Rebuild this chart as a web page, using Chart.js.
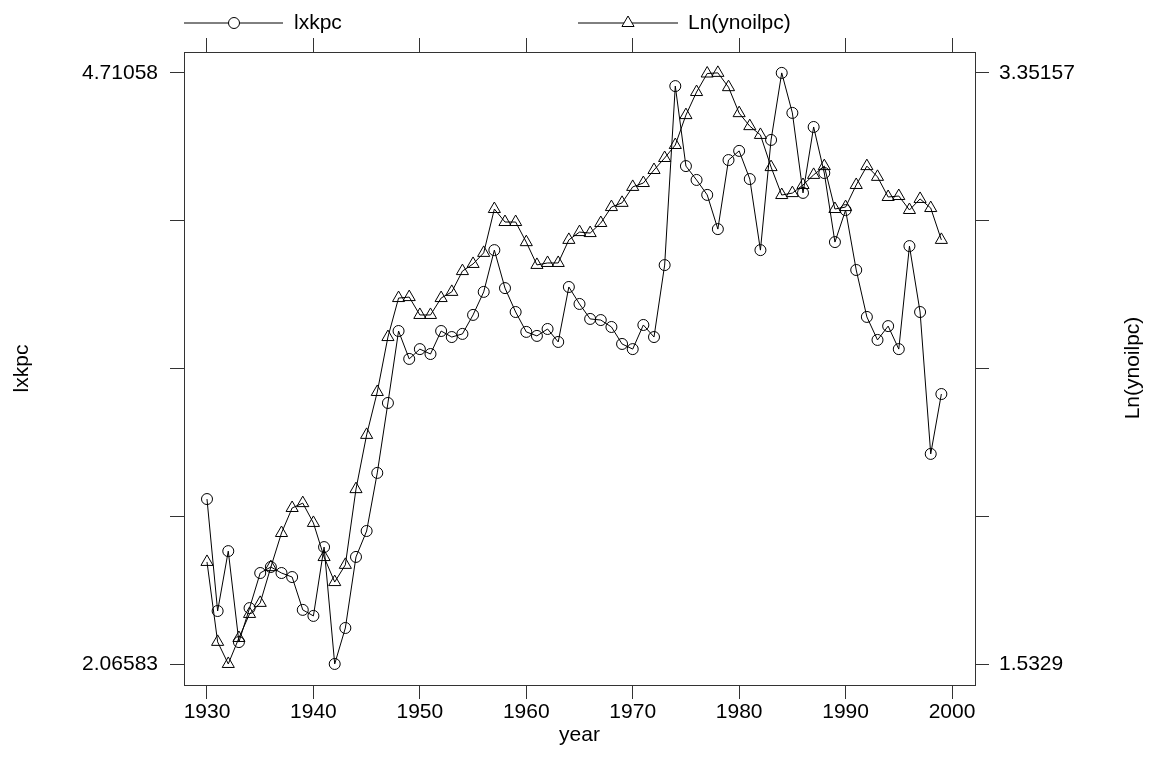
<!DOCTYPE html>
<html>
<head>
<meta charset="utf-8">
<script src="https://cdn.jsdelivr.net/npm/chart.js@4.4.1/dist/chart.umd.min.js"></script>
<style>
    html, body { margin: 0; padding: 0; background: #fff; }
    canvas { display: block; }
</style>
</head>
<body>
<canvas id="chart" width="1151" height="761"></canvas>
<script>
const years = [
    1930, 1931, 1932, 1933, 1934, 1935, 1936, 1937, 1938, 1939,
    1940, 1941, 1942, 1943, 1944, 1945, 1946, 1947, 1948, 1949,
    1950, 1951, 1952, 1953, 1954, 1955, 1956, 1957, 1958, 1959,
    1960, 1961, 1962, 1963, 1964, 1965, 1966, 1967, 1968, 1969,
    1970, 1971, 1972, 1973, 1974, 1975, 1976, 1977, 1978, 1979,
    1980, 1981, 1982, 1983, 1984, 1985, 1986, 1987, 1988, 1989,
    1990, 1991, 1992, 1993, 1994, 1995, 1996, 1997, 1998, 1999
];

const lxkpc = [
    2.804, 2.303, 2.571, 2.164, 2.316, 2.473, 2.500, 2.473, 2.455, 2.308,
    2.281, 2.589, 2.066, 2.227, 2.545, 2.661, 2.921, 3.234, 3.556, 3.431,
    3.475, 3.453, 3.556, 3.529, 3.543, 3.628, 3.731, 3.918, 3.748, 3.641,
    3.552, 3.534, 3.565, 3.507, 3.753, 3.677, 3.610, 3.605, 3.574, 3.498,
    3.475, 3.583, 3.529, 3.851, 4.652, 4.294, 4.232, 4.165, 4.012, 4.321,
    4.362, 4.236, 3.918, 4.411, 4.711, 4.532, 4.174, 4.469, 4.263, 3.954,
    4.097, 3.829, 3.619, 3.516, 3.578, 3.475, 3.936, 3.641, 3.006, 3.274
];

const lnYnoilpc = [
    1.847, 1.601, 1.533, 1.613, 1.687, 1.721, 1.831, 1.936, 2.013, 2.028,
    1.967, 1.862, 1.785, 1.838, 2.071, 2.238, 2.370, 2.539, 2.659, 2.662,
    2.607, 2.607, 2.659, 2.678, 2.742, 2.764, 2.798, 2.933, 2.893, 2.893,
    2.831, 2.761, 2.767, 2.767, 2.838, 2.862, 2.859, 2.890, 2.939, 2.952,
    3.001, 3.013, 3.053, 3.090, 3.130, 3.222, 3.293, 3.350, 3.352, 3.308,
    3.228, 3.188, 3.161, 3.062, 2.976, 2.982, 3.007, 3.038, 3.065, 2.933,
    2.939, 3.007, 3.065, 3.032, 2.970, 2.973, 2.930, 2.964, 2.936, 2.838
];

const xTicks = [1930, 1940, 1950, 1960, 1970, 1980, 1990, 2000];
const leftTicks = [2.06583, 2.72702, 3.38821, 4.04939, 4.71058];
const leftTickLabels = ["2.06583", "", "", "", "4.71058"];
const rightTicks = [1.5329, 1.98757, 2.44224, 2.8969, 3.35157];
const rightTickLabels = ["1.5329", "", "", "", "3.35157"];

const FONT = "'Liberation Sans', Arial, Helvetica, sans-serif";
const AXIS_COLOR = "#333";

function setTicks(values) {
    return scale => { scale.ticks = values.map(v => ({ value: v })); };
}

function axisBase(position, ticks) {
    return {
        type: "linear",
        position,
        afterBuildTicks: setTicks(ticks),
        border: { display: true, color: AXIS_COLOR, width: 1 },
        grid: {
            drawOnChartArea: false,
            drawTicks: true,
            tickLength: 14,
            color: AXIS_COLOR,
            lineWidth: 1
        },
        ticks: {
            color: "#000",
            font: { family: FONT, size: 21 },
            maxRotation: 0,
            autoSkip: false
        }
    };
}

// legend and right-hand title are drawn by hand (Stata-style)
const decorPlugin = {
    id: "decor",
    afterDraw(chart) {
        const ctx = chart.ctx;
        ctx.save();
        ctx.strokeStyle = "#000";
        ctx.lineWidth = 1;
        ctx.fillStyle = "#000";
        ctx.font = "21px " + FONT;
        ctx.textBaseline = "middle";
        const ly = 23;

        ctx.beginPath();
        ctx.moveTo(184, ly); ctx.lineTo(283, ly);
        ctx.stroke();
        ctx.beginPath();
        ctx.fillStyle = "#fff";
        ctx.arc(234, ly, 5.5, 0, Math.PI * 2);
        ctx.fill(); ctx.stroke();
        ctx.fillStyle = "#000";
        ctx.fillText("lxkpc", 294, ly);

        ctx.beginPath();
        ctx.moveTo(578, ly); ctx.lineTo(678, ly);
        ctx.stroke();
        const r = 7;
        ctx.beginPath();
        ctx.moveTo(628, ly - r);
        ctx.lineTo(628 + r * Math.sin(2 * Math.PI / 3), ly - r * Math.cos(2 * Math.PI / 3));
        ctx.lineTo(628 + r * Math.sin(4 * Math.PI / 3), ly - r * Math.cos(4 * Math.PI / 3));
        ctx.closePath();
        ctx.fillStyle = "#fff";
        ctx.fill(); ctx.stroke();
        ctx.fillStyle = "#000";
        ctx.fillText("Ln(ynoilpc)", 688, ly);

        ctx.translate(1133, 368);
        ctx.rotate(-Math.PI / 2);
        ctx.textAlign = "center";
        ctx.fillText("Ln(ynoilpc)", 0, 0);
        ctx.restore();
    }
};

const ctx = document.getElementById("chart").getContext("2d");

const xBottom = axisBase("bottom", xTicks);
xBottom.min = 1927.84;
xBottom.max = 2002.16;
xBottom.ticks.callback = v => String(v);
xBottom.ticks.padding = 1;
xBottom.title = {
    display: true,
    text: "year",
    color: "#000",
    font: { family: FONT, size: 21 },
    padding: { top: 0, bottom: 13 }
};
xBottom.afterFit = s => { s.height = 76; };

const xTop = axisBase("top", xTicks);
xTop.min = 1927.84;
xTop.max = 2002.16;
xTop.ticks.display = false;
xTop.afterFit = s => { s.height = 52; };

const yLeft = axisBase("left", leftTicks);
yLeft.min = 1.97186;
yLeft.max = 4.80455;
yLeft.ticks.padding = 12;
yLeft.ticks.callback = (v, i) => leftTickLabels[i];
yLeft.title = {
    display: true,
    text: "lxkpc",
    color: "#000",
    font: { family: FONT, size: 21 },
    padding: { top: 10, bottom: 0 }
};
yLeft.afterFit = s => { s.width = 184; };

const yRight = axisBase("right", rightTicks);
yRight.min = 1.46828;
yRight.max = 3.41619;
yRight.ticks.padding = 10;
yRight.ticks.callback = (v, i) => rightTickLabels[i];
yRight.afterFit = s => { s.width = 176; };

new Chart(ctx, {
    type: "line",
    data: {
        datasets: [
            {
                label: "lxkpc",
                data: years.map((yr, i) => ({ x: yr, y: lxkpc[i] })),
                xAxisID: "x",
                yAxisID: "y",
                borderColor: "#000",
                borderWidth: 1,
                pointStyle: "circle",
                pointRadius: 5.5,
                pointBorderColor: "#000",
                pointBackgroundColor: "rgba(0,0,0,0)",
                pointBorderWidth: 1,
                tension: 0
            },
            {
                label: "Ln(ynoilpc)",
                data: years.map((yr, i) => ({ x: yr, y: lnYnoilpc[i] })),
                xAxisID: "x",
                yAxisID: "y2",
                borderColor: "#000",
                borderWidth: 1,
                pointStyle: "triangle",
                pointRadius: 7,
                pointBorderColor: "#000",
                pointBackgroundColor: "rgba(0,0,0,0)",
                pointBorderWidth: 1,
                tension: 0
            }
        ]
    },
    options: {
        responsive: false,
        animation: false,
        layout: { padding: 0 },
        plugins: {
            legend: { display: false },
            tooltip: { enabled: false }
        },
        scales: {
            x: xBottom,
            xt: xTop,
            y: yLeft,
            y2: yRight
        }
    },
    plugins: [decorPlugin]
});
</script>
</body>
</html>
